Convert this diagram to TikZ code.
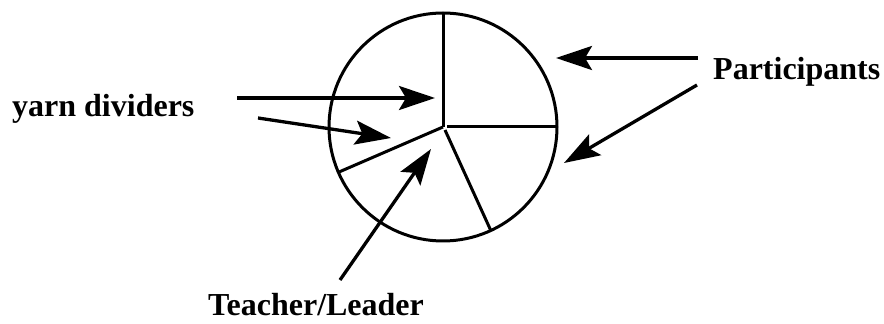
\documentclass[tikz,border=0pt]{standalone}
\usepackage{fontspec}
\setmainfont{Liberation Serif}
\usetikzlibrary{arrows.meta}
\begin{document}
\begin{tikzpicture}[x=1pt,y=1pt,
  lbl/.style={inner sep=0pt,anchor=base west,font=\fontsize{32}{38}\selectfont\bfseries},
  pie/.style={line width=3pt},
  arr/.style={line width=3.3pt,-{Stealth[length=36pt,width=24pt,inset=7pt]}}]
\useasboundingbox (0,0) rectangle (884,324);
% pie
\coordinate (c) at (443,197);
\draw[pie] (c) circle[radius=114];
\draw[pie] (c) -- +(90:114);
\draw[pie] (447,197) -- (557,197);
\draw[pie] (c) -- +(203.4:113);
\draw[pie] (445,194) -- +(-65.5:110);
% labels
\node[lbl] (yarn) at (12,207) {yarn dividers};
\node[lbl] (part) at (713,244) {Participants};
\node[lbl] (teach) at (208,8) {Teacher/Leader};
% arrow coordinates
\coordinate (y1s) at (237,226); \coordinate (y1e) at (435,226);
\coordinate (y2s) at (258,206); \coordinate (y2e) at (391,186);
\coordinate (ts) at (340,44);  \coordinate (te) at (431,175);
\coordinate (p1s) at (698,266); \coordinate (p1e) at (556,266);
\coordinate (p2s) at (697,239); \coordinate (p2e) at (564,161);
\draw[arr] (y1s) -- (y1e);
\draw[arr] (y2s) -- (y2e);
\draw[arr] (ts) -- (te);
\draw[arr] (p1s) -- (p1e);
\draw[arr] (p2s) -- (p2e);
\end{tikzpicture}
\end{document}
